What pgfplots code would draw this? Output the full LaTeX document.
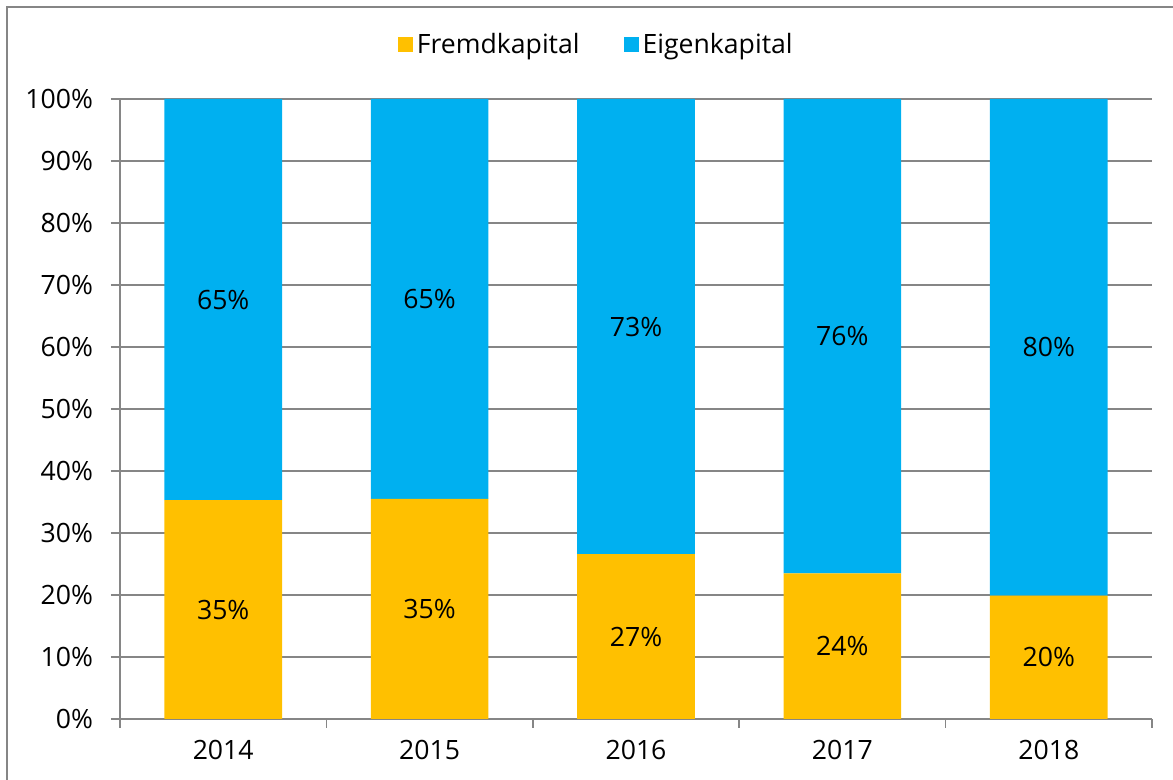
\documentclass[border=0pt]{standalone}
\usepackage{fontspec}
\setmainfont{Open Sans}
\usepackage{pgfplots}
\pgfplotsset{compat=1.18}
\usepackage{pgfplotstable}
\definecolor{fk}{HTML}{FFC000}
\definecolor{ek}{HTML}{00B0F0}
\definecolor{ax}{HTML}{868686}

\pgfplotstableread{
x F E FL EL Fm Em
0 35.3 64.7 35 65 17.65 67.65
1 35.5 64.5 35 65 17.75 67.75
2 26.6 73.4 27 73 13.30 63.30
3 23.5 76.5 24 76 11.75 61.75
4 19.9 80.1 20 80 9.95 59.95
}\data

\begin{document}
\begin{tikzpicture}
\useasboundingbox (0,0) rectangle (586.5pt,390pt);
\draw[ax, line width=1pt] (3.5pt,0) -- (3.5pt,386.5pt) -- (586.5pt,386.5pt);
\begin{axis}[
  at={(60pt,30.5pt)}, anchor=south west,
  scale only axis, width=516pt, height=310pt,
  font=\fontsize{13.3}{15}\selectfont,
  ybar stacked, bar width=0.57,
  xmin=-0.5, xmax=4.5, ymin=0, ymax=100,
  axis x line=bottom, axis y line=left,
  axis line style={ax, line width=0.8pt, -},
  xtick={0,...,4}, xticklabels={2014,2015,2016,2017,2018},
  xticklabel style={yshift=-2.5pt},
  minor xtick={-0.5,0.5,...,4.5},
  major x tick style={draw=none},
  minor x tick style={ax, line width=0.8pt},
  minor tick length=4.5pt,
  ytick={0,10,...,100},
  ytick style={ax, line width=0.8pt},
  major tick length=4.5pt,
  tick align=outside,
  ymajorgrids, grid style={ax, line width=0.8pt},
  /pgf/number format/assume math mode=true,
  yticklabel={\pgfmathprintnumber{\tick}\%},
  yticklabel style={anchor=east, xshift=-5.5pt},
  legend style={at={(0.4625,1.0871)}, anchor=center, draw=none, fill=none,
    legend columns=2, font=\fontsize{13.3}{15}\selectfont,
    /tikz/every even column/.append style={column sep=20pt},
    nodes={inner sep=2pt}},
  legend image code/.code={\fill[#1] (0pt,-3.75pt) rectangle (7.5pt,3.75pt);},
]
\addplot[fill=fk, draw=none] table[x=x, y=F] {\data};
\addplot[fill=ek, draw=none] table[x=x, y=E] {\data};
\legend{Fremdkapital, Eigenkapital}
\end{axis}
\begin{axis}[
  at={(60pt,30.5pt)}, anchor=south west,
  scale only axis, width=516pt, height=310pt,
  xmin=-0.5, xmax=4.5, ymin=0, ymax=100, hide axis,
]
\addplot[draw=none, mark=none, nodes near coords={\pgfplotspointmeta\%},
  point meta=explicit symbolic, nodes near coords align=center,
  every node near coord/.append style={font=\fontsize{13.3}{15}\selectfont, text=black}]
  table[x=x, y=Fm, meta=FL] {\data};
\addplot[draw=none, mark=none, nodes near coords={\pgfplotspointmeta\%},
  point meta=explicit symbolic, nodes near coords align=center,
  every node near coord/.append style={font=\fontsize{13.3}{15}\selectfont, text=black}]
  table[x=x, y=Em, meta=EL] {\data};
\end{axis}
\end{tikzpicture}
\end{document}
